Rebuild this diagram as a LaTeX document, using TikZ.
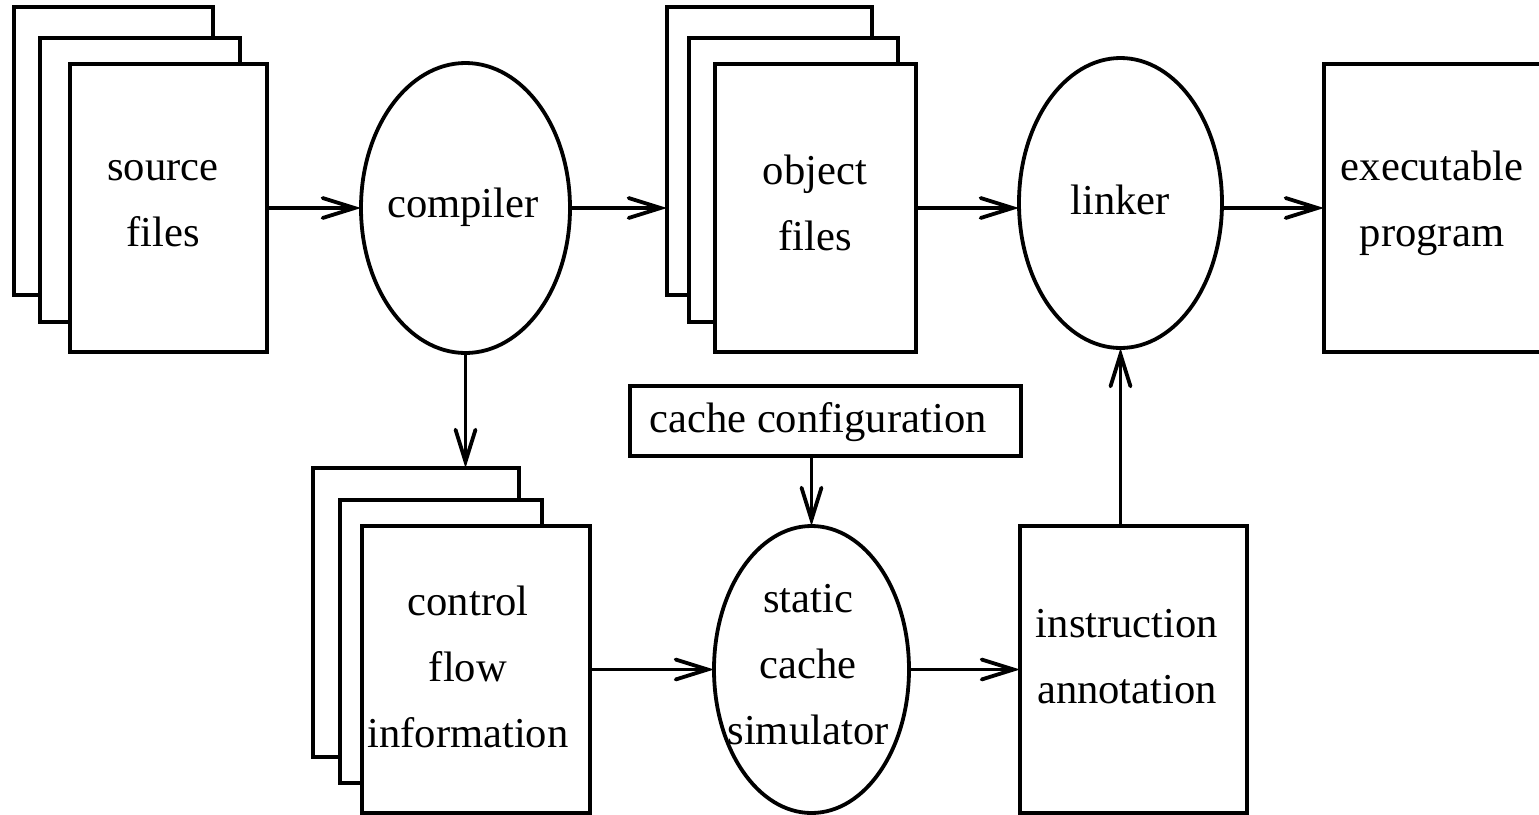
\documentclass[tikz,border=0pt]{standalone}
\usepackage{fontspec}
\setmainfont{Liberation Serif}
\usetikzlibrary{arrows.meta,shapes.geometric}
\begin{document}
\begin{tikzpicture}[x=0.5pt,y=-0.5pt,
  line width=1.9pt,
  box/.style={draw, fill=white, rectangle, inner sep=0pt, outer sep=0pt},
  oval/.style={draw, fill=white, ellipse, inner sep=0pt, outer sep=0pt},
  txt/.style={align=center, inner sep=0pt, font=\fontsize{21.3}{33}\selectfont},
  arr/.style={-{Straight Barb[length=16pt,width=10pt,line cap=round]}, line width=1.9pt}]
\useasboundingbox (0,0) rectangle (1539,815);

% source files stack
\node[box, minimum width=99.5pt, minimum height=144pt] (srcB) at (113.5,151) {};
\node[box, minimum width=100pt, minimum height=142pt] (srcM) at (140,180) {};
\node[box, minimum width=98.5pt, minimum height=144pt] (srcF) at (168.5,208) {};
\node[txt] (srcT) at (163,204) {source\\files};

% compiler
\node[oval, minimum width=104.5pt, minimum height=145pt] (comp) at (465.5,208) {};
\node[txt] (compT) at (463,207) {compiler};

% object files stack
\node[box, minimum width=102.5pt, minimum height=144pt] (objB) at (769.5,151) {};
\node[box, minimum width=104.5pt, minimum height=142pt] (objM) at (793.5,180) {};
\node[box, minimum width=100.5pt, minimum height=144pt] (objF) at (815.5,208) {};
\node[txt] (objT) at (815,203) {object\\files};

% linker
\node[oval, minimum width=101.5pt, minimum height=145pt] (link) at (1120.5,203) {};
\node[txt] (linkT) at (1120,200) {linker};

% executable program
\node[box, minimum width=118pt, minimum height=144pt] (exe) at (1442,208) {};
\node[txt] (exeT) at (1432,203) {executable\\program};

% cache configuration
\node[box, minimum width=195.5pt, minimum height=35pt] (cfg) at (825.5,421) {};
\node[txt] (cfgT) at (818,422) {cache configuration};

% control flow information stack
\node[box, minimum width=103pt, minimum height=144.5pt] (cfB) at (416,612.5) {};
\node[box, minimum width=101pt, minimum height=141.5pt] (cfM) at (441,641.5) {};
\node[box, minimum width=114pt, minimum height=143.5pt] (cfF) at (476,669.5) {};
\node[txt] (cfT) at (468,667) {control\\flow\\information};

% static cache simulator
\node[oval, minimum width=97.5pt, minimum height=143.5pt] (sim) at (811.5,669.5) {};
\node[txt] (simT) at (808,665) {static\\cache\\simulator};

% instruction annotation
\node[box, minimum width=113.5pt, minimum height=143.5pt] (ann) at (1133.5,669.5) {};
\node[txt] (annT) at (1127,657) {instruction\\annotation};

% connectors
\draw[arr] (srcF.east) -- (comp.west);
\draw[arr] (comp.east) -- (comp.east -| objB.west);
\draw[arr] (objF.east) -- (objF.east -| link.west);
\draw[arr] (exe.west -| link.east) -- (exe.west);
\draw[arr] (comp.south) -- (comp.south |- cfB.north);
\draw[arr] (cfF.east) -- (sim.west);
\draw[arr] (sim.north |- cfg.south) -- (sim.north);
\draw[arr] (sim.east) -- (ann.west);
\draw[arr] (link.south |- ann.north) -- (link.south);
\end{tikzpicture}
\end{document}
